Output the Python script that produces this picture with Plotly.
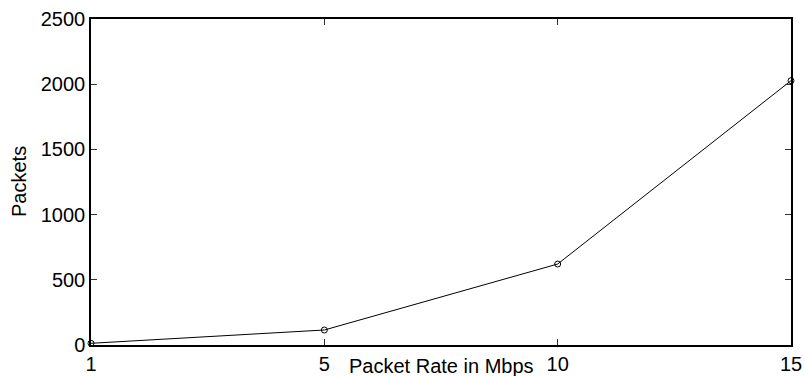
import plotly.graph_objects as go

categories = ["1", "5", "10", "15"]
packets = [13, 115, 621, 2027]
y_ticks = [0, 500, 1000, 1500, 2000, 2500]

FONT = "Liberation Sans, Arial, Helvetica, sans-serif"

fig = go.Figure()
fig.add_trace(go.Scatter(
    x=list(range(len(categories))), y=packets, mode="lines+markers",
    line=dict(color="black", width=1),
    marker=dict(symbol="circle-open", size=6, color="black", line=dict(width=1)),
    showlegend=False, cliponaxis=False,
))

fig.update_layout(
    width=804, height=376,
    margin=dict(l=91, r=13, t=19, b=31, autoexpand=False),
    paper_bgcolor="white", plot_bgcolor="white",
    font=dict(family=FONT, size=20, color="black"),
    xaxis=dict(
        range=[0, len(categories) - 1], automargin=False,
        tickmode="array", tickvals=list(range(len(categories))), ticktext=categories,
        showgrid=False, zeroline=False,
        showline=True, linecolor="black", linewidth=1.5, mirror="ticks",
        ticks="inside", ticklen=6, tickcolor="#333", tickwidth=1,
        tickfont=dict(size=20),
    ),
    yaxis=dict(
        range=[0, 2500], tickvals=y_ticks, automargin=False,
        showgrid=False, zeroline=False,
        showline=True, linecolor="black", linewidth=1.5, mirror="ticks",
        ticks="inside", ticklen=6, tickcolor="#333", tickwidth=1,
        tickfont=dict(size=20),
    ),
    annotations=[
        dict(text="Packet Rate in Mbps", xref="paper", yref="paper",
             x=0.5, y=0, yshift=-8, xanchor="center", yanchor="top",
             showarrow=False, font=dict(size=20)),
        dict(text="Packets", xref="paper", yref="paper",
             x=0, xshift=-72, y=0.5, xanchor="center", yanchor="middle",
             textangle=-90, showarrow=False, font=dict(size=20)),
    ],
)

fig.write_html(
    "out.html",
    config={"displayModeBar": False},
    post_script="document.body.style.margin='0';document.body.style.overflow='hidden';",
)
